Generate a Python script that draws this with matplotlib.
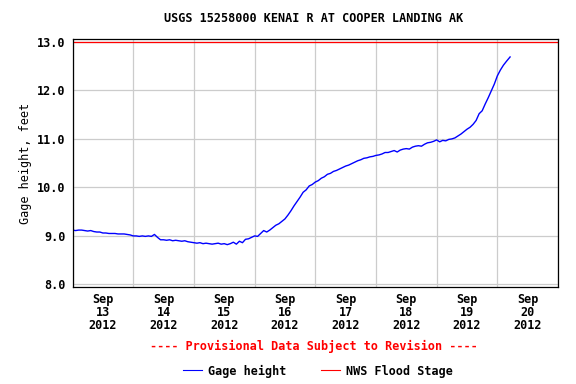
"""Gage height plot for USGS 15258000, Kenai R at Cooper Landing"""

import matplotlib

matplotlib.use("Agg")
import matplotlib.dates as mdates
import matplotlib.pyplot as plt
import pandas as pd
from matplotlib.lines import Line2D

TITLE = "USGS 15258000 KENAI R AT COOPER LANDING AK"
START = "2012-09-13 00:00"
END = "2012-09-21 00:00"

# days since Sep 13 00:00 and gage height in feet
days = [
    0.00, 0.05, 0.10, 0.15, 0.20, 0.25, 0.30, 0.35, 0.40, 0.45,
    0.50, 0.55, 0.60, 0.65, 0.70, 0.75, 0.80, 0.85, 0.90, 0.95,
    1.00, 1.05, 1.10, 1.15, 1.20, 1.25, 1.30, 1.35, 1.40, 1.45,
    1.50, 1.55, 1.60, 1.65, 1.70, 1.75, 1.80, 1.85, 1.90, 1.95,
    2.00, 2.05, 2.10, 2.15, 2.20, 2.25, 2.30, 2.35, 2.40, 2.45,
    2.50, 2.55, 2.60, 2.65, 2.70, 2.75, 2.80, 2.85, 2.90, 2.95,
    3.00, 3.05, 3.10, 3.15, 3.20, 3.25, 3.30, 3.35, 3.40, 3.45,
    3.50, 3.55, 3.60, 3.65, 3.70, 3.75, 3.80, 3.85, 3.90, 3.95,
    4.00, 4.05, 4.10, 4.15, 4.20, 4.25, 4.30, 4.35, 4.40, 4.45,
    4.50, 4.55, 4.60, 4.65, 4.70, 4.75, 4.80, 4.85, 4.90, 4.95,
    5.00, 5.05, 5.10, 5.15, 5.20, 5.25, 5.30, 5.35, 5.40, 5.45,
    5.50, 5.55, 5.60, 5.65, 5.70, 5.75, 5.80, 5.85, 5.90, 5.95,
    6.00, 6.05, 6.10, 6.15, 6.20, 6.25, 6.30, 6.35, 6.40, 6.45,
    6.50, 6.55, 6.60, 6.65, 6.70, 6.75, 6.80, 6.85, 6.90, 6.95,
    7.00, 7.05, 7.10, 7.15, 7.21,
]
gage = [
    9.12, 9.11, 9.12, 9.12, 9.11, 9.10, 9.11, 9.09, 9.08, 9.08,
    9.06, 9.06, 9.05, 9.05, 9.05, 9.04, 9.04, 9.04, 9.03, 9.02,
    9.00, 9.00, 8.99, 9.00, 8.99, 9.00, 8.99, 9.03, 8.97, 8.92,
    8.92, 8.91, 8.92, 8.90, 8.91, 8.90, 8.89, 8.90, 8.88, 8.87,
    8.86, 8.85, 8.86, 8.84, 8.85, 8.84, 8.83, 8.84, 8.85, 8.83,
    8.84, 8.82, 8.84, 8.87, 8.83, 8.89, 8.86, 8.93, 8.94, 8.97,
    9.00, 8.99, 9.05, 9.11, 9.08, 9.12, 9.17, 9.22, 9.25, 9.30,
    9.35, 9.43, 9.52, 9.62, 9.71, 9.80, 9.90, 9.95, 10.03, 10.06,
    10.11, 10.14, 10.19, 10.22, 10.27, 10.29, 10.33, 10.35, 10.38, 10.41,
    10.44, 10.46, 10.49, 10.52, 10.55, 10.57, 10.60, 10.61, 10.63, 10.64,
    10.66, 10.67, 10.69, 10.72, 10.72, 10.74, 10.76, 10.73, 10.77, 10.79,
    10.80, 10.79, 10.83, 10.85, 10.86, 10.85, 10.89, 10.92, 10.93, 10.95,
    10.98, 10.94, 10.97, 10.96, 10.99, 11.00, 11.02, 11.06, 11.10, 11.15,
    11.20, 11.24, 11.30, 11.38, 11.52, 11.58, 11.72, 11.85, 11.99, 12.13,
    12.30, 12.42, 12.52, 12.60, 12.69,
]
flood_stage = 13.0

yticks = [8.0, 9.0, 10.0, 11.0, 12.0, 13.0]


def main():
    """Draw the hydrograph and save it"""
    plt.rcParams["font.family"] = "DejaVu Sans Mono"
    plt.rcParams["font.weight"] = "bold"
    plt.rcParams["font.size"] = 8.5

    times = pd.Timestamp(START) + pd.to_timedelta(days, unit="D")

    fig = plt.figure(figsize=(5.76, 3.84), dpi=100)
    ax = fig.add_axes([0.1259, 0.2518, 0.8429, 0.6466])

    ax.plot(times, gage, color="#0000ff", linewidth=1.0)
    ax.axhline(flood_stage, color="#ff0000", linewidth=0.9)

    ax.set_xlim(pd.Timestamp(START), pd.Timestamp(END))
    ax.set_ylim(7.94, 13.06)
    ax.set_yticks(yticks)
    ax.set_yticklabels([f"{v:.1f}" for v in yticks])

    # gridlines at midnight, date labels at noon
    ax.xaxis.set_minor_locator(mdates.DayLocator())
    ax.xaxis.set_major_locator(mdates.HourLocator(byhour=[12]))
    ax.xaxis.set_major_formatter(mdates.DateFormatter("%b\n%d\n%Y"))
    ax.tick_params(axis="both", which="both", length=0)
    ax.tick_params(axis="x", pad=4)
    ax.tick_params(axis="y", pad=5)
    for lbl in ax.get_xticklabels():
        lbl.set_linespacing(1.0)

    ax.grid(True, which="minor", axis="x", color="#cccccc", linewidth=0.9)
    ax.grid(True, which="major", axis="y", color="#cccccc", linewidth=0.9)
    ax.set_axisbelow(True)
    for spine in ax.spines.values():
        spine.set_linewidth(0.9)

    ax.set_ylabel("Gage height, feet", labelpad=4)
    fig.text(0.545, 1 - 19 / 384, TITLE, ha="center", va="center")
    fig.text(0.545, 1 - 346 / 384,
             "---- Provisional Data Subject to Revision ----",
             ha="center", va="center", color="#ff0000")

    handles = [
        Line2D([], [], color="#0000ff", linewidth=0.8),
        Line2D([], [], color="#ff0000", linewidth=0.8),
    ]
    fig.legend(handles, ["Gage height", "NWS Flood Stage"], ncol=2,
               loc="center", bbox_to_anchor=(0.552, 1 - 371 / 384),
               frameon=False, handlelength=1.6, handletextpad=0.5,
               columnspacing=3.0)

    fig.savefig("out.png", dpi=100)


if __name__ == "__main__":
    main()
